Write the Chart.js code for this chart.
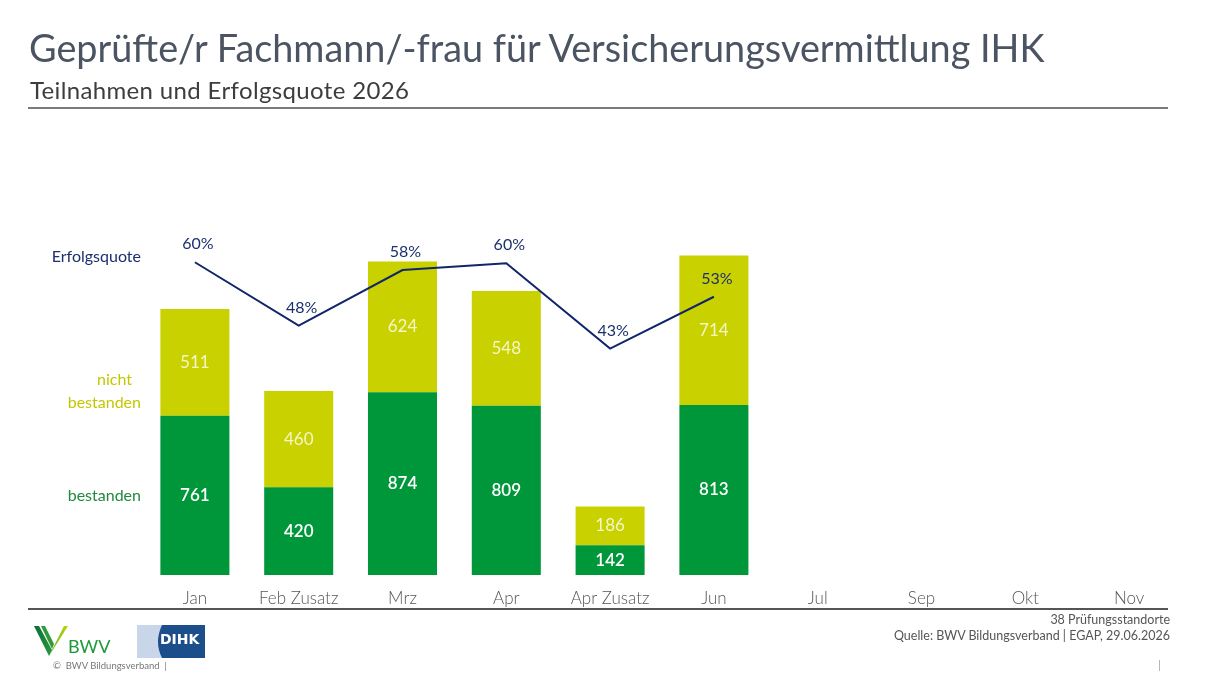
<!DOCTYPE html>
<html>
<head>
<meta charset="utf-8">
<script src="https://cdn.jsdelivr.net/npm/chart.js@4.4.1/dist/chart.umd.min.js"></script>
<style>
  html, body { margin: 0; padding: 0; background: #fff; }
  body { width: 1230px; height: 691px; position: relative; overflow: hidden; font-family: Lato, "Open Sans", sans-serif; }
  #c { position: absolute; left: 0; top: 0; }
  .t { position: absolute; white-space: nowrap; }
  #title { left: 29px; top: 25px; font-size: 37.8px; color: #4b5462; }
  #sub { left: 30px; top: 75px; font-size: 24px; letter-spacing: 0.35px; color: #3d3d3d; }
  #rule1 { position: absolute; left: 28px; top: 107px; width: 1140px; height: 2px; background: #7a7a7a; }
  #rule2 { position: absolute; left: 28px; top: 608px; width: 1140px; height: 2px; background: #555; }
  .leg { font-size: 16px; text-align: right; }
  #l1 { right: 1089px; top: 246px; color: #1c2f6e; }
  #l2 { right: 1098px; top: 369px; color: #c3c800; }
  #l3 { right: 1089px; top: 392px; color: #c3c800; }
  #l4 { right: 1089px; top: 485px; color: #1f8a3c; }
  .foot { font-size: 12.5px; color: #555; right: 60px; text-align: right; }
  #f1 { top: 612px; }
  #f2 { top: 628px; }
  #copy { left: 53px; top: 660px; font-size: 9.5px; color: #777; }
  #bar { left: 1158px; top: 657px; font-size: 12px; color: #aaa; }
</style>
</head>
<body>
<canvas id="c" width="1230" height="691"></canvas>
<div class="t" id="title">Geprüfte/r Fachmann/-frau für Versicherungsvermittlung IHK</div>
<div class="t" id="sub">Teilnahmen und Erfolgsquote 2026</div>
<div id="rule1"></div>
<div id="rule2"></div>
<div class="t leg" id="l1">Erfolgsquote</div>
<div class="t leg" id="l2">nicht</div>
<div class="t leg" id="l3">bestanden</div>
<div class="t leg" id="l4">bestanden</div>
<div class="t foot" id="f1">38 Prüfungsstandorte</div>
<div class="t foot" id="f2">Quelle: BWV Bildungsverband | EGAP, 29.06.2026</div>
<div class="t" id="copy">©&nbsp; BWV Bildungsverband &nbsp;|</div>
<div class="t" id="bar">|</div>
<svg style="position:absolute;left:30px;top:622px" width="185" height="40" viewBox="0 0 185 40">
  <defs>
    <linearGradient id="g1" x1="0" y1="0" x2="1" y2="1">
      <stop offset="0" stop-color="#0b6e3a"/><stop offset="1" stop-color="#2a9a3a"/>
    </linearGradient>
    <linearGradient id="g2" x1="0" y1="0" x2="1" y2="0">
      <stop offset="0" stop-color="#58b030"/><stop offset="1" stop-color="#c8d400"/>
    </linearGradient>
  </defs>
  <polygon points="4,4 9,4 22,28 19,34" fill="url(#g1)"/>
  <polygon points="11,4 15,4 24,22 22,27" fill="#2f9a3a"/>
  <polygon points="19,34 22,28 34,4 38,4" fill="url(#g2)"/>
  <text x="38" y="31" font-family="Lato, sans-serif" font-size="18" fill="#1d9a3a">BWV</text>
  <rect x="107" y="3" width="68" height="33" fill="#c9d6ea"/>
  <path d="M132,3 L175,3 L175,36 L132,36 Q124,20 132,3 Z" fill="#1d4e8c"/>
  <text x="130" y="22" font-family="'DejaVu Sans', sans-serif" font-weight="bold" font-size="14" fill="#fff">DIHK</text>
</svg>
<script>
const categories = ['Jan', 'Feb Zusatz', 'Mrz', 'Apr', 'Apr Zusatz', 'Jun', 'Jul', 'Sep', 'Okt', 'Nov'];
const bestanden = [761, 420, 874, 809, 142, 813, null, null, null, null];
const nichtBestanden = [511, 460, 624, 548, 186, 714, null, null, null, null];
const erfolgsquote = [59.8, 47.7, 58.3, 59.6, 43.3, 53.2, null, null, null, null];
const quoteLabels = ['60%', '48%', '58%', '60%', '43%', '53%', '', '', '', ''];

const labelPlugin = {
  id: 'labels',
  afterDatasetsDraw(chart) {
    const ctx = chart.ctx;
    ctx.save();
    ctx.textAlign = 'center';
    ctx.textBaseline = 'middle';
    [0, 1].forEach(di => {
      const meta = chart.getDatasetMeta(di);
      const data = chart.data.datasets[di].data;
      meta.data.forEach((el, i) => {
        if (data[i] == null) return;
        const top = Math.min(el.y, el.base), bot = Math.max(el.y, el.base);
        ctx.font = di === 0 ? '600 17px Lato, sans-serif' : '17px Lato, sans-serif';
        ctx.fillStyle = di === 0 ? '#ffffff' : '#f4f6c8';
        ctx.fillText(String(data[i]), el.x, (top + bot) / 2);
      });
    });
    const lm = chart.getDatasetMeta(2);
    ctx.font = '16px Lato, sans-serif';
    ctx.fillStyle = '#1c2f6e';
    lm.data.forEach((pt, i) => {
      if (erfolgsquote[i] == null) return;
      ctx.fillText(quoteLabels[i], pt.x + 3, pt.y - 18);
    });
    ctx.restore();
  }
};

new Chart(document.getElementById('c'), {
  data: {
    labels: categories,
    datasets: [
      { type: 'bar', label: 'bestanden', data: bestanden, backgroundColor: '#00963a', stack: 's', order: 2, yAxisID: 'y',
        barPercentage: 0.665, categoryPercentage: 1 },
      { type: 'bar', label: 'nicht bestanden', data: nichtBestanden, backgroundColor: '#c9d100', stack: 's', order: 2, yAxisID: 'y',
        barPercentage: 0.665, categoryPercentage: 1 },
      { type: 'line', label: 'Erfolgsquote', data: erfolgsquote, borderColor: '#10256b', borderWidth: 2,
        pointRadius: 0, tension: 0, fill: false, order: 0, yAxisID: 'y1', spanGaps: false }
    ]
  },
  options: {
    responsive: false,
    animation: false,
    layout: { padding: { left: 143, right: 49, top: 52, bottom: 76 } },
    plugins: { legend: { display: false }, tooltip: { enabled: false } },
    scales: {
      x: {
        grid: { display: false, drawTicks: false }, border: { display: false },
        ticks: { color: '#555', font: { family: 'Lato, sans-serif', size: 17, weight: '300' }, padding: 13, maxRotation: 0, autoSkip: false },
        afterFit: s => { s.height = 40; }
      },
      y: { stacked: true, min: 0, max: 2500, display: false },
      y1: { min: 0, max: 100, display: false }
    }
  },
  plugins: [labelPlugin]
});
</script>
</body>
</html>
